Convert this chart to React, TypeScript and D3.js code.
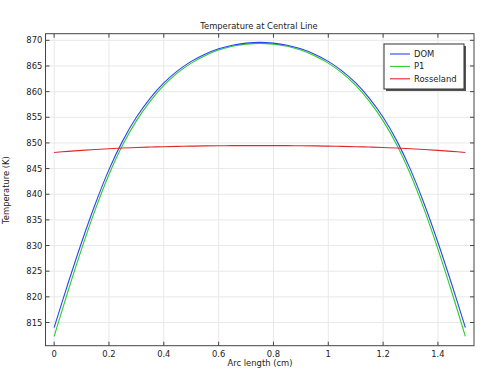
import React, { useEffect, useRef } from 'react';
import * as d3 from 'd3';

// arc length positions (cm)
const arcLength = [
  0, 0.05, 0.1, 0.15, 0.2, 0.25, 0.3, 0.35, 0.4, 0.45, 0.5, 0.55, 0.6, 0.65, 0.7, 0.75,
  0.8, 0.85, 0.9, 0.95, 1.0, 1.05, 1.1, 1.15, 1.2, 1.25, 1.3, 1.35, 1.4, 1.45, 1.5,
];

// temperatures (K)
const domTemp = [
  814.0, 822.5, 830.6, 838.1, 844.8, 850.4, 855.0, 858.7, 861.7, 864.05, 865.9, 867.3, 868.35, 869.05, 869.45, 869.6,
  869.45, 869.05, 868.35, 867.3, 865.9, 864.05, 861.7, 858.7, 855.0, 850.4, 844.8, 838.1, 830.6, 822.5, 814.0,
];
const p1Temp = [
  812.3, 821.0, 829.3, 837.0, 843.85, 849.6, 854.3, 858.1, 861.2, 863.65, 865.55, 867.0, 868.1, 868.85, 869.25, 869.4,
  869.25, 868.85, 868.1, 867.0, 865.55, 863.65, 861.2, 858.1, 854.3, 849.6, 843.85, 837.0, 829.3, 821.0, 812.3,
];
const rosselandTemp = [
  848.15, 848.35, 848.55, 848.72, 848.87, 849.0, 849.1, 849.2, 849.27, 849.33, 849.38, 849.42, 849.45, 849.47, 849.48, 849.48,
  849.48, 849.47, 849.45, 849.42, 849.38, 849.33, 849.27, 849.2, 849.1, 849.0, 848.87, 848.72, 848.55, 848.35, 848.15,
];

const seriesNames = ['DOM', 'P1', 'Rosseland'];
const seriesColors = ['#2a45f0', '#2ccc2c', '#e02828'];

const xTicks = [0, 0.2, 0.4, 0.6, 0.8, 1, 1.2, 1.4];
const yTicks = [815, 820, 825, 830, 835, 840, 845, 850, 855, 860, 865, 870];

const W = 483;
const H = 372;

export default function App() {
  const ref = useRef<SVGSVGElement>(null);

  useEffect(() => {
    const svg = d3.select(ref.current);
    svg.selectAll('*').remove();

    const left = 45.5, right = 474, top = 33.7, bottom = 345.7;
    const font = 'DejaVu Sans, sans-serif';

    const x = d3.scaleLinear().domain([-0.0315, 1.5315]).range([left, right]);
    const y = d3.scaleLinear().domain([810.48, 871.29]).range([bottom, top]);

    svg.append('rect').attr('width', W).attr('height', H).attr('fill', '#fff');

    // grid
    const grid = svg.append('g').attr('stroke', '#e8e8e8').attr('stroke-width', 1);
    xTicks.forEach(t => {
      grid.append('line')
        .attr('x1', x(t)).attr('x2', x(t))
        .attr('y1', top).attr('y2', bottom);
    });
    yTicks.forEach(t => {
      grid.append('line')
        .attr('x1', left).attr('x2', right)
        .attr('y1', y(t)).attr('y2', y(t));
    });

    // curves
    const data = [domTemp, p1Temp, rosselandTemp];
    const line = d3.line<number>()
      .x((d, i) => x(arcLength[i]))
      .y(d => y(d))
      .curve(d3.curveCatmullRom);
    const order = [1, 0, 2];
    order.forEach(k => {
      svg.append('path')
        .attr('d', line(data[k]))
        .attr('fill', 'none')
        .attr('stroke', seriesColors[k])
        .attr('stroke-width', 1.1);
    });

    // frame
    svg.append('rect')
      .attr('x', left).attr('y', top)
      .attr('width', right - left).attr('height', bottom - top)
      .attr('fill', 'none').attr('stroke', '#444').attr('stroke-width', 1);

    // inward ticks on all sides
    const ticks = svg.append('g').attr('stroke', '#444').attr('stroke-width', 1);
    xTicks.forEach(t => {
      ticks.append('line').attr('x1', x(t)).attr('x2', x(t)).attr('y1', bottom).attr('y2', bottom - 4);
      ticks.append('line').attr('x1', x(t)).attr('x2', x(t)).attr('y1', top).attr('y2', top + 4);
    });
    yTicks.forEach(t => {
      ticks.append('line').attr('x1', left).attr('x2', left + 4).attr('y1', y(t)).attr('y2', y(t));
      ticks.append('line').attr('x1', right).attr('x2', right - 4).attr('y1', y(t)).attr('y2', y(t));
    });

    // tick labels
    const fmt = d3.format('~g');
    svg.append('g').selectAll('text').data(xTicks).enter().append('text')
      .attr('x', d => x(d)).attr('y', 357)
      .attr('text-anchor', 'middle')
      .attr('font-family', font).attr('font-size', 8.4).attr('fill', '#222')
      .text(d => fmt(d));
    svg.append('g').selectAll('text').data(yTicks).enter().append('text')
      .attr('x', 42.3).attr('y', d => y(d) + 3)
      .attr('text-anchor', 'end')
      .attr('font-family', font).attr('font-size', 8.4).attr('fill', '#222')
      .text(d => d);

    // titles
    svg.append('text')
      .attr('x', 259).attr('y', 29)
      .attr('text-anchor', 'middle')
      .attr('font-family', font).attr('font-size', 8.4).attr('fill', '#222')
      .text('Temperature at Central Line');
    svg.append('text')
      .attr('x', 260).attr('y', 366)
      .attr('text-anchor', 'middle')
      .attr('font-family', font).attr('font-size', 8.4).attr('fill', '#222')
      .text('Arc length (cm)');
    svg.append('text')
      .attr('transform', 'translate(9,190) rotate(-90)')
      .attr('text-anchor', 'middle')
      .attr('font-family', font).attr('font-size', 8.4).attr('fill', '#222')
      .text('Temperature (K)');

    // legend
    const lg = svg.append('g');
    lg.append('rect')
      .attr('x', 386).attr('y', 46).attr('width', 80).attr('height', 45)
      .attr('fill', '#555');
    lg.append('rect')
      .attr('x', 384).attr('y', 44).attr('width', 80).attr('height', 45)
      .attr('fill', '#fff').attr('stroke', '#333').attr('stroke-width', 1);
    seriesNames.forEach((name, i) => {
      const ly = 54 + i * 12.4;
      lg.append('line')
        .attr('x1', 390).attr('x2', 410).attr('y1', ly).attr('y2', ly)
        .attr('stroke', seriesColors[i]).attr('stroke-width', 1.1);
      lg.append('text')
        .attr('x', 414).attr('y', ly + 3)
        .attr('font-family', font).attr('font-size', 8.4).attr('fill', '#222')
        .text(name);
    });
  }, []);

  return (
    <svg
      ref={ref}
      width={W}
      height={H}
      style={{ position: 'absolute', left: 0, top: 0, display: 'block' }}
    />
  );
}
